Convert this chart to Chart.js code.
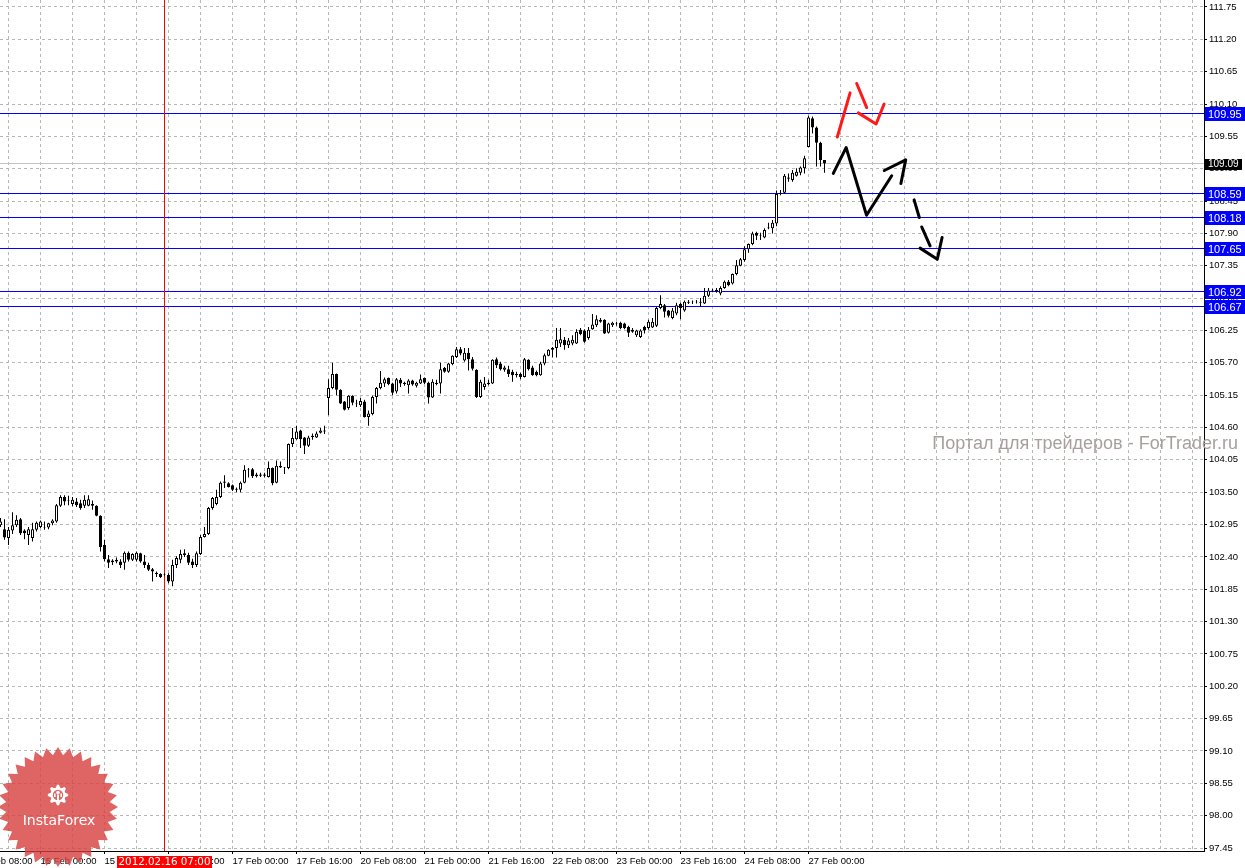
<!DOCTYPE html>
<html>
<head>
<meta charset="utf-8">
<title>H1 chart</title>
<script src="https://cdn.jsdelivr.net/npm/chart.js@4.4.1/dist/chart.umd.min.js"></script>
<style>
  html, body { margin: 0; padding: 0; background: #fff; overflow: hidden; }
  canvas { display: block; }
</style>
</head>
<body>
<canvas id="chart" width="1245" height="868"></canvas>
<script>
// H1 bars, bar 0 = 14 Feb 14:00 (weekend hours skipped)
const opens = [
  102.94, 102.87, 102.72, 102.85, 102.94, 103.04, 102.85, 102.77, 102.72, 102.86,
  102.91, 102.91, 102.90, 102.97, 103.00, 103.27, 103.42, 103.35, 103.30, 103.34,
  103.31, 103.27, 103.27, 103.30, 103.27, 103.10, 102.60, 102.36, 102.31, 102.32,
  102.32, 102.30, 102.47, 102.35, 102.35, 102.46, 102.32, 102.26, 102.19, 102.13,
  102.11, 102.09, 102.09, 101.98, 102.26, 102.35, 102.43, 102.43, 102.32, 102.26,
  102.45, 102.74, 102.79, 103.23, 103.30, 103.42, 103.66, 103.65, 103.62, 103.56,
  103.54, 103.66, 103.88, 103.89, 103.77, 103.80, 103.78, 103.76, 103.91, 103.66,
  103.95, 103.92, 103.91, 104.32, 104.40, 104.55, 104.43, 104.29, 104.44, 104.43,
  104.51, 104.53, 105.10, 105.27, 105.51, 105.24, 105.04, 104.93, 105.14, 105.02,
  104.98, 105.04, 104.78, 104.83, 105.12, 105.27, 105.35, 105.44, 105.35, 105.21,
  105.41, 105.36, 105.32, 105.40, 105.31, 105.35, 105.44, 105.36, 105.11, 105.36,
  105.35, 105.61, 105.55, 105.68, 105.80, 105.93, 105.74, 105.87, 105.76, 105.58,
  105.12, 105.29, 105.34, 105.35, 105.76, 105.69, 105.58, 105.59, 105.55, 105.51,
  105.51, 105.46, 105.75, 105.62, 105.55, 105.49, 105.69, 105.82, 105.92, 105.95,
  106.03, 106.09, 106.00, 106.03, 106.03, 106.26, 106.25, 106.12, 106.27, 106.34,
  106.40, 106.43, 106.21, 106.34, 106.37, 106.38, 106.37, 106.31, 106.26, 106.17,
  106.14, 106.31, 106.29, 106.30, 106.33, 106.63, 106.68, 106.59, 106.46, 106.54,
  106.70, 106.59, 106.72, 106.74, 106.73, 106.72, 106.71, 106.84, 106.93, 106.92,
  106.88, 106.97, 107.08, 107.05, 107.21, 107.35, 107.45, 107.63, 107.72, 107.91,
  107.86, 107.83, 107.99, 107.99, 108.07, 108.57, 108.59, 108.85, 108.81, 108.88,
  108.93, 109.01, 109.37, 109.86, 109.70, 109.44, 109.15
];
const highs = [
  103.06, 103.04, 102.91, 103.16, 103.11, 103.06, 102.87, 102.91, 102.98, 103.00,
  103.02, 103.00, 102.98, 103.04, 103.30, 103.45, 103.45, 103.44, 103.42, 103.40,
  103.37, 103.45, 103.45, 103.36, 103.28, 103.11, 102.69, 102.43, 102.36, 102.39,
  102.36, 102.49, 102.49, 102.46, 102.49, 102.47, 102.43, 102.30, 102.21, 102.15,
  102.12, 102.12, 102.12, 102.35, 102.41, 102.52, 102.53, 102.47, 102.37, 102.49,
  102.77, 102.91, 103.25, 103.42, 103.54, 103.68, 103.79, 103.67, 103.63, 103.58,
  103.68, 103.96, 103.91, 103.91, 103.83, 103.83, 103.83, 104.02, 103.92, 104.04,
  104.02, 103.93, 104.33, 104.59, 104.63, 104.56, 104.44, 104.46, 104.50, 104.53,
  104.59, 104.63, 105.42, 105.70, 105.52, 105.25, 105.05, 105.15, 105.15, 105.07,
  105.10, 105.07, 104.89, 105.14, 105.29, 105.56, 105.45, 105.45, 105.36, 105.44,
  105.44, 105.38, 105.42, 105.41, 105.38, 105.50, 105.45, 105.38, 105.42, 105.41,
  105.70, 105.63, 105.70, 105.83, 105.97, 105.97, 105.95, 105.95, 105.80, 105.59,
  105.41, 105.46, 105.41, 105.76, 105.79, 105.72, 105.65, 105.65, 105.58, 105.55,
  105.53, 105.78, 105.76, 105.65, 105.57, 105.72, 105.86, 105.93, 105.97, 106.29,
  106.29, 106.14, 106.12, 106.17, 106.27, 106.29, 106.27, 106.31, 106.53, 106.51,
  106.46, 106.44, 106.38, 106.40, 106.40, 106.40, 106.38, 106.33, 106.29, 106.26,
  106.27, 106.33, 106.43, 106.46, 106.65, 106.85, 106.70, 106.60, 106.63, 106.72,
  106.72, 106.76, 106.77, 106.76, 106.77, 106.80, 106.97, 106.97, 106.96, 106.97,
  107.00, 107.10, 107.11, 107.22, 107.45, 107.48, 107.68, 107.73, 107.93, 107.93,
  107.91, 107.99, 108.08, 108.13, 108.63, 108.64, 108.91, 108.92, 108.98, 109.01,
  109.04, 109.22, 109.90, 109.89, 109.72, 109.46, 109.15
];
const lows = [
  102.91, 102.69, 102.60, 102.79, 102.91, 102.77, 102.70, 102.60, 102.66, 102.83,
  102.89, 102.86, 102.87, 102.94, 102.98, 103.25, 103.28, 103.28, 103.26, 103.25,
  103.20, 103.23, 103.26, 103.20, 103.09, 102.49, 102.32, 102.21, 102.26, 102.29,
  102.21, 102.18, 102.32, 102.33, 102.32, 102.30, 102.21, 102.16, 101.98, 102.06,
  102.04, 102.07, 101.95, 101.90, 102.21, 102.29, 102.40, 102.26, 102.21, 102.23,
  102.43, 102.73, 102.77, 103.20, 103.28, 103.40, 103.57, 103.58, 103.52, 103.50,
  103.50, 103.65, 103.75, 103.74, 103.75, 103.76, 103.75, 103.75, 103.62, 103.65,
  103.91, 103.81, 103.89, 104.27, 104.39, 104.25, 104.15, 104.27, 104.39, 104.42,
  104.50, 104.49, 104.81, 105.25, 105.15, 105.00, 104.89, 104.90, 104.98, 104.95,
  104.95, 104.77, 104.63, 104.81, 105.01, 105.25, 105.29, 105.32, 105.15, 105.18,
  105.29, 105.31, 105.18, 105.31, 105.28, 105.34, 105.34, 105.01, 105.10, 105.32,
  105.18, 105.53, 105.53, 105.66, 105.78, 105.83, 105.72, 105.57, 105.57, 105.10,
  105.10, 105.24, 105.32, 105.34, 105.61, 105.57, 105.55, 105.46, 105.38, 105.45,
  105.42, 105.45, 105.57, 105.48, 105.47, 105.48, 105.66, 105.81, 105.79, 105.79,
  105.97, 105.92, 105.95, 106.00, 106.02, 106.17, 106.04, 106.09, 106.26, 106.31,
  106.38, 106.19, 106.20, 106.31, 106.33, 106.27, 106.27, 106.14, 106.21, 106.14,
  106.12, 106.20, 106.26, 106.29, 106.31, 106.61, 106.47, 106.47, 106.44, 106.51,
  106.44, 106.57, 106.70, 106.70, 106.71, 106.65, 106.70, 106.82, 106.90, 106.89,
  106.85, 106.96, 107.00, 107.03, 107.19, 107.34, 107.42, 107.57, 107.70, 107.79,
  107.79, 107.82, 107.97, 107.90, 108.02, 108.55, 108.57, 108.78, 108.78, 108.87,
  108.89, 108.92, 109.36, 109.60, 109.04, 109.04, 108.93
];
const closes = [
  103.00, 102.73, 102.86, 102.94, 103.03, 102.80, 102.80, 102.87, 102.87, 102.98,
  103.00, 102.90, 102.97, 103.02, 103.28, 103.42, 103.34, 103.36, 103.37, 103.28,
  103.23, 103.37, 103.38, 103.27, 103.10, 102.57, 102.36, 102.30, 102.34, 102.35,
  102.26, 102.47, 102.35, 102.45, 102.47, 102.32, 102.26, 102.18, 102.15, 102.11,
  102.06, 102.10, 101.98, 102.26, 102.38, 102.45, 102.46, 102.30, 102.26, 102.46,
  102.74, 102.79, 103.23, 103.40, 103.42, 103.66, 103.68, 103.59, 103.54, 103.54,
  103.66, 103.88, 103.89, 103.77, 103.80, 103.78, 103.80, 103.91, 103.65, 103.95,
  103.92, 103.91, 104.32, 104.42, 104.53, 104.40, 104.29, 104.43, 104.46, 104.50,
  104.55, 104.55, 105.27, 105.51, 105.24, 105.01, 104.90, 105.14, 105.02, 105.01,
  105.05, 104.78, 104.84, 105.12, 105.27, 105.36, 105.42, 105.34, 105.19, 105.42,
  105.35, 105.34, 105.40, 105.33, 105.36, 105.42, 105.36, 105.11, 105.38, 105.34,
  105.59, 105.55, 105.69, 105.82, 105.93, 105.86, 105.87, 105.76, 105.60, 105.12,
  105.38, 105.35, 105.36, 105.75, 105.66, 105.59, 105.62, 105.51, 105.49, 105.49,
  105.46, 105.76, 105.59, 105.49, 105.49, 105.69, 105.83, 105.92, 105.95, 106.09,
  106.10, 106.00, 106.08, 106.09, 106.23, 106.19, 106.06, 106.26, 106.35, 106.44,
  106.43, 106.20, 106.37, 106.38, 106.36, 106.29, 106.29, 106.21, 106.23, 106.25,
  106.25, 106.25, 106.40, 106.40, 106.63, 106.70, 106.57, 106.50, 106.59, 106.68,
  106.63, 106.74, 106.74, 106.73, 106.74, 106.74, 106.84, 106.93, 106.94, 106.94,
  106.97, 107.08, 107.02, 107.21, 107.36, 107.46, 107.63, 107.72, 107.90, 107.86,
  107.87, 107.96, 108.00, 108.08, 108.57, 108.59, 108.88, 108.83, 108.93, 108.95,
  109.02, 109.18, 109.87, 109.70, 109.44, 109.15, 109.09
];

// time axis labels and the bar each one sits on
const tickLabels = ['14 Feb 08:00', '15 Feb 00:00', '15 Feb 16:00', '16 Feb 08:00', '17 Feb 00:00',
  '17 Feb 16:00', '20 Feb 08:00', '21 Feb 00:00', '21 Feb 16:00', '22 Feb 08:00',
  '23 Feb 00:00', '23 Feb 16:00', '24 Feb 08:00', '27 Feb 00:00'];
const tickBars = [-6, 10, 26, 42, 58, 74, 90, 106, 122, 138, 154, 170, 186, 202];

const priceTicks = [111.75, 111.20, 110.65, 110.10, 109.55, 109.00, 108.45, 107.90, 107.35,
  106.80, 106.25, 105.70, 105.15, 104.60, 104.05, 103.50, 102.95, 102.40, 101.85,
  101.30, 100.75, 100.20, 99.65, 99.10, 98.55, 98.00, 97.45];

// horizontal levels, bid, marker
const levelPrices = [109.95, 108.59, 108.18, 107.65, 106.92, 106.67];
const bidPrice = 109.09;
const markerBar = 41;
const markerLabel = '2012.02.16 07:00';

// forecast drawings, [bar, price]
const blackStrokes = [
  [[208.2, 108.92], [211.4, 109.36], [216.5, 108.21], [222.8, 108.88]],
  [[220.95, 108.97], [226.3, 109.15], [225.1, 108.75]],
  [[228.4, 108.47], [229.7, 108.17]],
  [[230.3, 108.01], [232.4, 107.69]],
  [[229.9, 107.65], [234.2, 107.46], [235.4, 107.83]]
];
const redStrokes = [
  [[209.2, 109.54], [212.4, 110.29]],
  [[214.05, 110.45], [216.55, 110.04]],
  [[214.45, 109.95], [218.9, 109.76], [220.9, 110.10]]
];

const watermark = 'Портал для трейдеров - ForTrader.ru';

const X_MIN = -0.125, X_MAX = 300.875;
const Y_MIN = 97.399, Y_MAX = 111.869;
const GRID = '#b2bab2';
const TICK_FONT = { family: 'Liberation Sans', size: 9.5 };

const gridBars = [];
for (let b = -6; b <= 298; b += 8) gridBars.push(b);

const wickData = opens.map((o, i) => ({ x: i, y: [lows[i], highs[i]] }));
const bodyData = opens.map((o, i) => ({ x: i, y: [Math.min(o, closes[i]), Math.max(o, closes[i])] }));
const bodyColors = opens.map((o, i) => (closes[i] >= o ? '#ffffff' : '#000000'));

function lineSet(points, color, width, order) {
  return {
    type: 'line',
    data: points,
    borderColor: color,
    borderWidth: width,
    pointRadius: 0,
    tension: 0,
    borderJoinStyle: 'round',
    borderCapStyle: 'round',
    order: order
  };
}

const datasets = [];
datasets.push(lineSet([{ x: markerBar, y: Y_MIN }, { x: markerBar, y: Y_MAX }], '#ff0000', 1, 5));
datasets.push({
  type: 'bar', data: wickData, backgroundColor: '#000', borderWidth: 0,
  grouped: false, categoryPercentage: 1, barPercentage: 1, maxBarThickness: 1,
  inflateAmount: 0, order: 2
});
datasets.push({
  type: 'bar', data: bodyData, backgroundColor: bodyColors, borderColor: '#000', borderWidth: 1,
  borderSkipped: false, grouped: false, categoryPercentage: 1, barPercentage: 1, maxBarThickness: 3,
  inflateAmount: 0, order: 1
});
blackStrokes.forEach(s => datasets.push(lineSet(s.map(p => ({ x: p[0], y: p[1] })), '#000', 3, 0)));
redStrokes.forEach(s => datasets.push(lineSet(s.map(p => ({ x: p[0], y: p[1] })), '#ff1a1a', 3, 0)));

function drawLogo(ctx) {
  const cx = 58, cy = 807, R = 60, r = 52, n = 32;
  ctx.save();
  ctx.beginPath();
  for (let k = 0; k < n * 2; k++) {
    const a = -Math.PI / 2 + k * Math.PI / n;
    const rad = k % 2 ? r : R;
    ctx.lineTo(cx + rad * Math.cos(a), cy + rad * Math.sin(a));
  }
  ctx.closePath();
  ctx.fillStyle = 'rgba(215,62,62,0.8)';
  ctx.fill();

  // gear
  const gx = 58, gy = 795;
  ctx.beginPath();
  const teeth = 8;
  for (let k = 0; k < teeth * 4; k++) {
    const a = -Math.PI / 2 + (k - 0.5) * Math.PI / (teeth * 2);
    const rad = (Math.floor(k / 2) % 2) ? 7.6 : 10.2;
    ctx.lineTo(gx + rad * Math.cos(a), gy + rad * Math.sin(a));
  }
  ctx.closePath();
  ctx.moveTo(gx + 5.2, gy);
  ctx.arc(gx, gy, 5.2, 0, Math.PI * 2, true);
  ctx.fillStyle = '#ffffff';
  ctx.fill('evenodd');
  ctx.beginPath();
  ctx.arc(gx, gy - 2.5, 1.8, 0, Math.PI * 2);
  ctx.fill();
  ctx.fillRect(gx - 1, gy - 0.5, 2, 9);
  ctx.fillRect(gx - 4, gy - 1.5, 1.6, 3.5);
  ctx.fillRect(gx + 2.4, gy - 1.5, 1.6, 3.5);

  ctx.font = '14px "DejaVu Sans"';
  ctx.textAlign = 'center';
  ctx.textBaseline = 'middle';
  ctx.fillText('InstaForex', cx + 1, 821);
  ctx.restore();
}

// crisp 1px horizontal line at a price, placed through the y scale
function hLine(chart, price, color) {
  const ctx = chart.ctx, a = chart.chartArea;
  const py = Math.round(chart.scales.y.getPixelForValue(price)) + 0.5;
  ctx.strokeStyle = color;
  ctx.lineWidth = 1;
  ctx.beginPath();
  ctx.moveTo(a.left, py);
  ctx.lineTo(a.right, py);
  ctx.stroke();
}

const overlay = {
  id: 'overlay',
  beforeDatasetsDraw(chart) {
    const ctx = chart.ctx;
    ctx.save();
    ctx.font = '18px "Liberation Sans"';
    ctx.fillStyle = '#a89e9e';
    ctx.textAlign = 'right';
    ctx.textBaseline = 'middle';
    ctx.fillText(watermark, 1238, 444);
    hLine(chart, bidPrice, '#c4c4c4');
    levelPrices.forEach(p => hLine(chart, p, '#0000ff'));
    ctx.restore();
  },
  afterDraw(chart) {
    const ctx = chart.ctx;
    const ys = chart.scales.y, xs = chart.scales.x;
    const right = chart.chartArea.right;
    ctx.save();
    ctx.textAlign = 'left';
    ctx.textBaseline = 'middle';

    ctx.font = '11px "Liberation Sans"';
    levelPrices.forEach(p => {
      const py = Math.round(ys.getPixelForValue(p));
      ctx.fillStyle = '#0000ff';
      ctx.fillRect(right + 1, py - 6, chart.width - right - 1, 14);
      ctx.fillStyle = '#ffffff';
      ctx.fillText(p.toFixed(2), right + 4, py + 1.5);
    });

    const by = Math.round(ys.getPixelForValue(bidPrice));
    ctx.fillStyle = '#000000';
    ctx.fillRect(right + 1, by - 4, 37, 11);
    ctx.font = '10px "Liberation Sans"';
    ctx.fillStyle = '#ffffff';
    ctx.fillText(bidPrice.toFixed(2), right + 4, by + 1.5);

    const mx = xs.getPixelForValue(markerBar);
    const bottom = chart.chartArea.bottom;
    ctx.fillStyle = '#ff0000';
    ctx.fillRect(Math.round(mx - 48), bottom + 5, 95, chart.height - bottom - 5);
    ctx.font = '10.3px "DejaVu Sans"';
    ctx.fillStyle = '#ffffff';
    ctx.textAlign = 'center';
    ctx.fillText(markerLabel, mx, bottom + 11.5);
    ctx.restore();

    drawLogo(ctx);
  }
};

new Chart(document.getElementById('chart'), {
  data: { datasets: datasets },
  options: {
    responsive: false,
    animation: false,
    devicePixelRatio: 1,
    layout: { padding: 0 },
    plugins: { legend: { display: false }, tooltip: { enabled: false } },
    scales: {
      x: {
        type: 'linear',
        min: X_MIN,
        max: X_MAX,
        offset: false,
        afterBuildTicks: s => { s.ticks = gridBars.map(v => ({ value: v })); },
        afterFit: s => { s.height = 17; s.paddingLeft = 0; s.paddingRight = 0; },
        ticks: {
          autoSkip: false, maxRotation: 0, minRotation: 0, align: 'start',
          padding: 2, color: '#000', font: TICK_FONT,
          callback: v => { const k = tickBars.indexOf(v); return k >= 0 ? tickLabels[k] : ''; }
        },
        grid: {
          color: GRID, offset: false, tickLength: 3,
          tickColor: c => (c.tick && c.tick.label ? '#000' : 'rgba(0,0,0,0)')
        },
        border: { display: true, color: '#000', width: 1, dash: [3, 3] }
      },
      y: {
        type: 'linear',
        position: 'right',
        min: Y_MIN,
        max: Y_MAX,
        afterBuildTicks: s => { s.ticks = priceTicks.map(v => ({ value: v })); },
        afterFit: s => { s.width = 41; s.paddingTop = 0; s.paddingBottom = 0; },
        ticks: { padding: 2, color: '#000', font: TICK_FONT, crossAlign: 'near', callback: v => v.toFixed(2) },
        grid: { color: GRID, tickLength: 3, tickColor: '#000' },
        border: { display: true, color: '#000', width: 1, dash: [3, 3] }
      }
    }
  },
  plugins: [overlay]
});
</script>
</body>
</html>
